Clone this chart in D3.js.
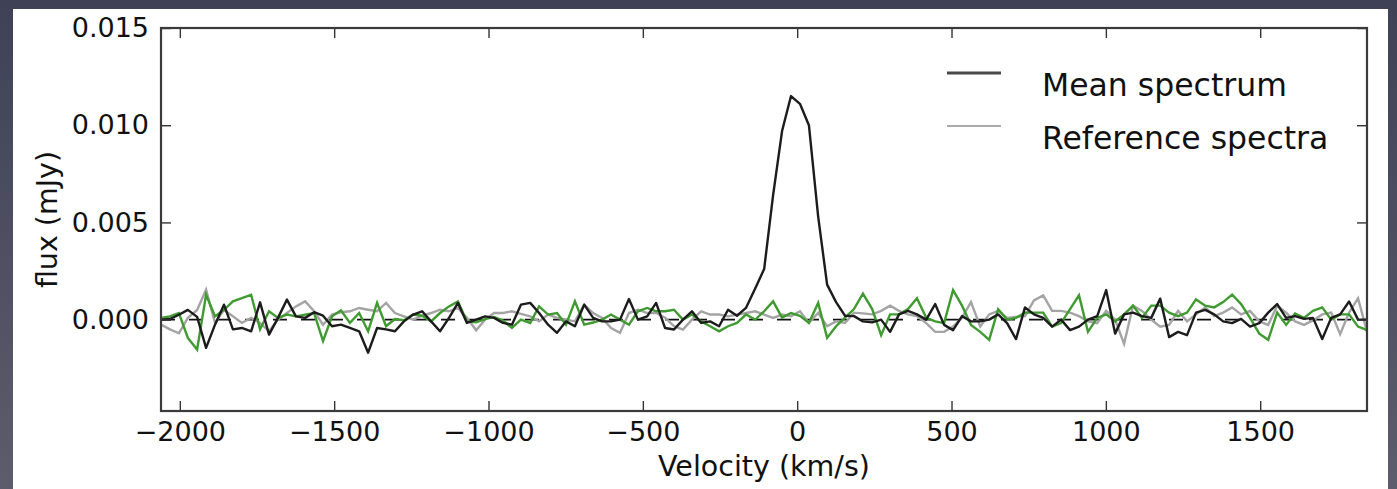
<!DOCTYPE html>
<html>
<head>
<meta charset="utf-8">
<script src="https://cdn.jsdelivr.net/npm/d3@7"></script>
<style>
  html, body { margin: 0; padding: 0; }
  body { width: 1397px; height: 489px; overflow: hidden; background: linear-gradient(#3f4256, #5b5d6c); }
  svg { display: block; font-family: "DejaVu Sans", Verdana, sans-serif; }
</style>
</head>
<body>
<svg id="chart" width="1397" height="489"></svg>
<script>
// channel velocities (km/s)
const velocity = [
  -2061, -2032, -2003, -1974, -1944, -1915, -1886, -1857, -1828, -1799,
  -1769, -1740, -1711, -1682, -1653, -1624, -1594, -1565, -1536, -1507,
  -1478, -1449, -1419, -1390, -1361, -1332, -1303, -1274, -1244, -1215,
  -1186, -1157, -1128, -1099, -1070, -1040, -1011, -982, -953, -924,
  -895, -865, -836, -807, -778, -749, -720, -690, -661, -632,
  -603, -574, -545, -516, -486, -457, -428, -399, -370, -341,
  -311, -282, -253, -224, -195, -166, -136, -107, -78, -49,
  -20, 9, 38, 68, 97, 126, 155, 184, 213, 243,
  272, 301, 330, 359, 388, 418, 447, 476, 505, 534,
  563, 593, 622, 651, 680, 709, 738, 767, 797, 826,
  855, 884, 913, 942, 972, 1001, 1030, 1059, 1088, 1117,
  1147, 1176, 1205, 1234, 1263, 1292, 1322, 1351, 1380, 1409,
  1438, 1467, 1497, 1526, 1555, 1584, 1613, 1642, 1671, 1701,
  1730, 1759, 1788, 1817, 1846
];

// flux (mJy)
const meanSpectrum = [
  0, 0.00003, 0.00025, 0.0005, 0.00014, -0.00145, -0.00026, 0.00077, -0.0005, -0.00043,
  -0.0006, 0.00089, -0.00077, 0.00009, 0.00103, 0.00017, 0.00009, 0.00038, 0.0002, -0.00034,
  -0.00026, -0.00043, -0.0006, -0.0017, -0.00043, -0.0005, -0.0006, -0.00009, 0.00026, 0.00043,
  -0.00009, -0.0006, 0.00009, 0.00086, -0.00017, 0, 0.00017, 0.00009, -0.00017, -0.00026,
  0.00077, 0.00086, 0.00034, -0.00026, -0.00068, -0.00009, -0.00034, 0.00077, 0.00009, -0.00009,
  -0.00009, 0, 0.00106, 0, 0.00017, 0.00086, -0.00043, -0.00051, 0, 0.00043,
  -0.00017, -0.00009, -0.00034, 0.00051, 0.0002, 0.0006, 0.0016, 0.0026, 0.0064, 0.0097,
  0.0115, 0.0111, 0.0100, 0.0053, 0.0018, 0.0009, 0.0002, 0.00018, -0.00009, -0.00014,
  0, -0.00063, 0.00027, 0.00045, 0.00027, 0, 0.0008, -0.00027, -0.00054, 0.00018,
  -0.00009, -0.00009, 0, 0.00027, -0.00018, -0.001, 0.00063, 0.00027, 0.00009, -0.00036,
  0, -0.00054, -0.00036, 0, 0.00018, 0.00152, -0.00072, 0.00027, 0.00036, 0.00018,
  0.00009, 0.00108, -0.0009, -0.00063, -0.0008, 0.00036, 0.0005, 0.00027, -0.00009, -0.00018,
  0.00004, -0.00036, -0.00018, 0.00036, 0.0008, 0.00009, 0.00018, 0.00004, 0.00009, -0.001,
  0.00009, 0.00027, 0.00093, 0, 0
];

const referenceGray = [
  -0.00026, -0.0005, -0.0007, 0.00009, 0.0005, 0.00154, -0.00017, 0.0005, 0.00017, -0.00017,
  0.00009, -0.00017, -0.0006, 0, 0.00034, 0.00068, 0.00094, 0.00043, -0.00026, 0.00026,
  0.00038, 0.00043, 0.0006, 0.00051, 0.00043, 0.00086, 0.00034, 0.00017, 0, 0.0002,
  0.00034, 0.00051, 0.00043, 0.0006, 0.00009, -0.00055, 0, 0.00034, 0.00034, 0.00043,
  0.0003, 0.00017, -0.00009, 0.00026, 0.00009, 0, -0.00009, 0.00077, 0.00034, 0.00009,
  -0.00043, -0.00068, 0.00034, 0.00051, 0.00034, 0.00034, 0.0001, -0.00034, -0.00051, 0,
  0.00043, 0.00026, 0.00026, 0.00017, 0.00026, 0.00034, 0.00043, 0.00026, 0.00009, 0.00026,
  0.00017, 0.00043, -0.00017, 0.00034, -0.00034, -0.00009, -0.00017, 0.00036, 0.00032, 0.00027,
  0.00045, 0.00072, 0.00045, 0.00027, 0.00018, -0.00018, -0.00063, -0.00063, -0.00036, 0.00009,
  0.0009, -0.00036, 0.00027, 0.00045, 0.00009, 0.00014, 0.00018, 0.00099, 0.00125, 0.00045,
  0.00045, 0.00036, 0.00018, -0.00009, -0.00018, 0.00045, 0, -0.00125, 0.00072, 0.00045,
  0, -0.00036, -0.00027, 0.00045, -0.00009, 0.00027, 0.00063, 0.00018, 0.00036, 0.00063,
  0.00027, 0.00045, -0.00009, -0.00027, 0.00072, 0.00036, -0.00009, -0.00027, -0.00004, 0.00027,
  0.00036, -0.00075, 0.00036, 0.0011, -0.00063
];

const referenceGreen = [
  0.00009, 0.00017, 0.00034, -0.00094, -0.00154, 0.00128, 0.00017, 0.0005, 0.00094, 0.0011,
  0.00128, -0.0005, 0.00043, 0.00009, 0.00026, 0.00017, 0.00026, 0.00034, -0.0011, 0.00017,
  0.00048, -0.00017, 0.00034, -0.0006, 0.00086, -0.00034, 0.00003, -0.00003, 0.00026, 0.0002,
  -0.00009, 0.00034, 0.00068, 0.00094, -0.00009, -0.00014, 0.00003, 0.00014, -0.00005, -0.00043,
  0, -0.00017, 0.00068, 0.00026, 0.00034, -0.00026, 0.00094, -0.00026, -0.00015, 0,
  0.00026, 0, -0.00026, 0.00043, 0.0006, 0.00043, 0.00043, 0.00051, 0, 0.00026,
  -0.00009, -0.00034, -0.0006, -0.00034, -0.00017, 0.00026, 0, 0.00043, 0.00094, 0.0001,
  0.00034, 0.0002, -0.00017, 0.00086, -0.00094, -0.00034, 0.0001, 0.00054, 0.00134, 0.00054,
  -0.0008, 0.00027, 0.00027, 0.00054, 0.0011, 0.00009, -0.00009, -0.00018, 0.00152, 0.00072,
  -0.00027, -0.00063, -0.00104, 0.00054, 0, 0.00009, 0.00036, 0.00036, 0.00036, -0.00036,
  -0.00018, 0.00054, 0.00125, -0.00063, 0.00009, 0.00027, -0.00009, 0.00027, 0.00072, 0.00009,
  0.00072, 0.00072, 0.00036, 0.00018, 0.00036, 0.00104, 0.00072, 0.00063, 0.0009, 0.00129,
  0.0008, 0.00009, -0.00072, -0.00104, 0.00036, -0.00027, 0.00032, 0.00009, 0.00045, 0.00063,
  0, 0.00027, 0.00027, -0.00036, -0.00054
];

const yTicks = [0, 0.005, 0.010, 0.015];
const xTicks = [-2000, -1500, -1000, -500, 0, 500, 1000, 1500];
const legendLabels = ["Mean spectrum", "Reference spectra"];

const W = 1397, H = 489;
const margin = {top: 28, right: 30, bottom: 78, left: 161};
const plotW = W - margin.left - margin.right;
const plotH = H - margin.top - margin.bottom;

const svg = d3.select("#chart");

// white slide panel
svg.append("rect")
  .attr("x", 13).attr("y", 9)
  .attr("width", 1375).attr("height", H)
  .attr("fill", "#ffffff");

const g = svg.append("g")
  .attr("transform", "translate(" + margin.left + "," + margin.top + ")");

const x = d3.scaleLinear()
  .domain([velocity[0], velocity[velocity.length - 1]])
  .range([0, plotW]);

const y = d3.scaleLinear()
  .domain([-0.0047, 0.015])
  .range([plotH, 0]);

g.append("defs").append("clipPath").attr("id", "clip")
  .append("rect").attr("width", plotW).attr("height", plotH);

const line = d3.line()
  .x((d, i) => x(velocity[i]))
  .y(d => y(d));

const lines = g.append("g").attr("clip-path", "url(#clip)");

// zero level
lines.append("line")
  .attr("x1", 0).attr("x2", plotW)
  .attr("y1", y(0)).attr("y2", y(0))
  .attr("stroke", "#111")
  .attr("stroke-width", 1.8)
  .attr("stroke-dasharray", "14,14");

lines.append("path")
  .datum(referenceGray)
  .attr("d", line)
  .attr("fill", "none")
  .attr("stroke", "#a4a4a4")
  .attr("stroke-width", 2.4);

lines.append("path")
  .datum(referenceGreen)
  .attr("d", line)
  .attr("fill", "none")
  .attr("stroke", "#3f9a30")
  .attr("stroke-width", 2.4);

lines.append("path")
  .datum(meanSpectrum)
  .attr("d", line)
  .attr("fill", "none")
  .attr("stroke", "#1c1c1c")
  .attr("stroke-width", 2.4)
  .attr("stroke-linejoin", "round");

// axes, ticks pointing inwards on all four sides
const fontSize = "27px";

g.append("g")
  .attr("transform", "translate(0," + plotH + ")")
  .call(d3.axisBottom(x).tickValues(xTicks).tickFormat(d3.format("d"))
    .tickSizeInner(-10).tickSizeOuter(0).tickPadding(11));

g.append("g")
  .call(d3.axisLeft(y).tickValues(yTicks).tickFormat(d3.format(".3f"))
    .tickSizeInner(-10).tickSizeOuter(0).tickPadding(12));

g.append("g")
  .call(d3.axisTop(x).tickValues(xTicks).tickFormat("").tickSizeInner(-10).tickSizeOuter(0));

g.append("g")
  .attr("transform", "translate(" + plotW + ",0)")
  .call(d3.axisRight(y).tickValues(yTicks).tickFormat("").tickSizeInner(-10).tickSizeOuter(0));

g.selectAll(".domain").remove();
g.selectAll(".tick line").attr("stroke", "#333").attr("stroke-width", 1.4);
g.selectAll(".tick text")
  .attr("fill", "#111")
  .style("font-size", fontSize)
  .style("font-family", "DejaVu Sans, Verdana, sans-serif");

g.append("rect")
  .attr("width", plotW).attr("height", plotH)
  .attr("fill", "none")
  .attr("stroke", "#3a3a3a")
  .attr("stroke-width", 2.2);

// axis titles
g.append("text")
  .attr("x", plotW / 2)
  .attr("y", plotH + 65)
  .attr("text-anchor", "middle")
  .attr("fill", "#111")
  .style("font-size", "28.5px")
  .text("Velocity (km/s)");

g.append("text")
  .attr("transform", "translate(" + (47 - margin.left) + "," + (plotH / 2) + ") rotate(-90)")
  .attr("dy", "0.35em")
  .attr("text-anchor", "middle")
  .attr("fill", "#111")
  .style("font-size", "28.5px")
  .text("flux (mJy)");

// legend
const legendStyles = [
  {stroke: "#4a4a4a", width: 3},
  {stroke: "#ababab", width: 2}
];
const legend = svg.append("g");
legendLabels.forEach((label, i) => {
  const row = legend.append("g").attr("transform", "translate(0," + (i * 53) + ")");
  row.append("line")
    .attr("x1", 947).attr("x2", 1001)
    .attr("y1", 73).attr("y2", 73)
    .attr("stroke", legendStyles[i].stroke)
    .attr("stroke-width", legendStyles[i].width);
  row.append("text")
    .attr("x", 1042).attr("y", 96)
    .attr("fill", "#111")
    .style("font-size", "31.5px")
    .text(label);
});
</script>
</body>
</html>
